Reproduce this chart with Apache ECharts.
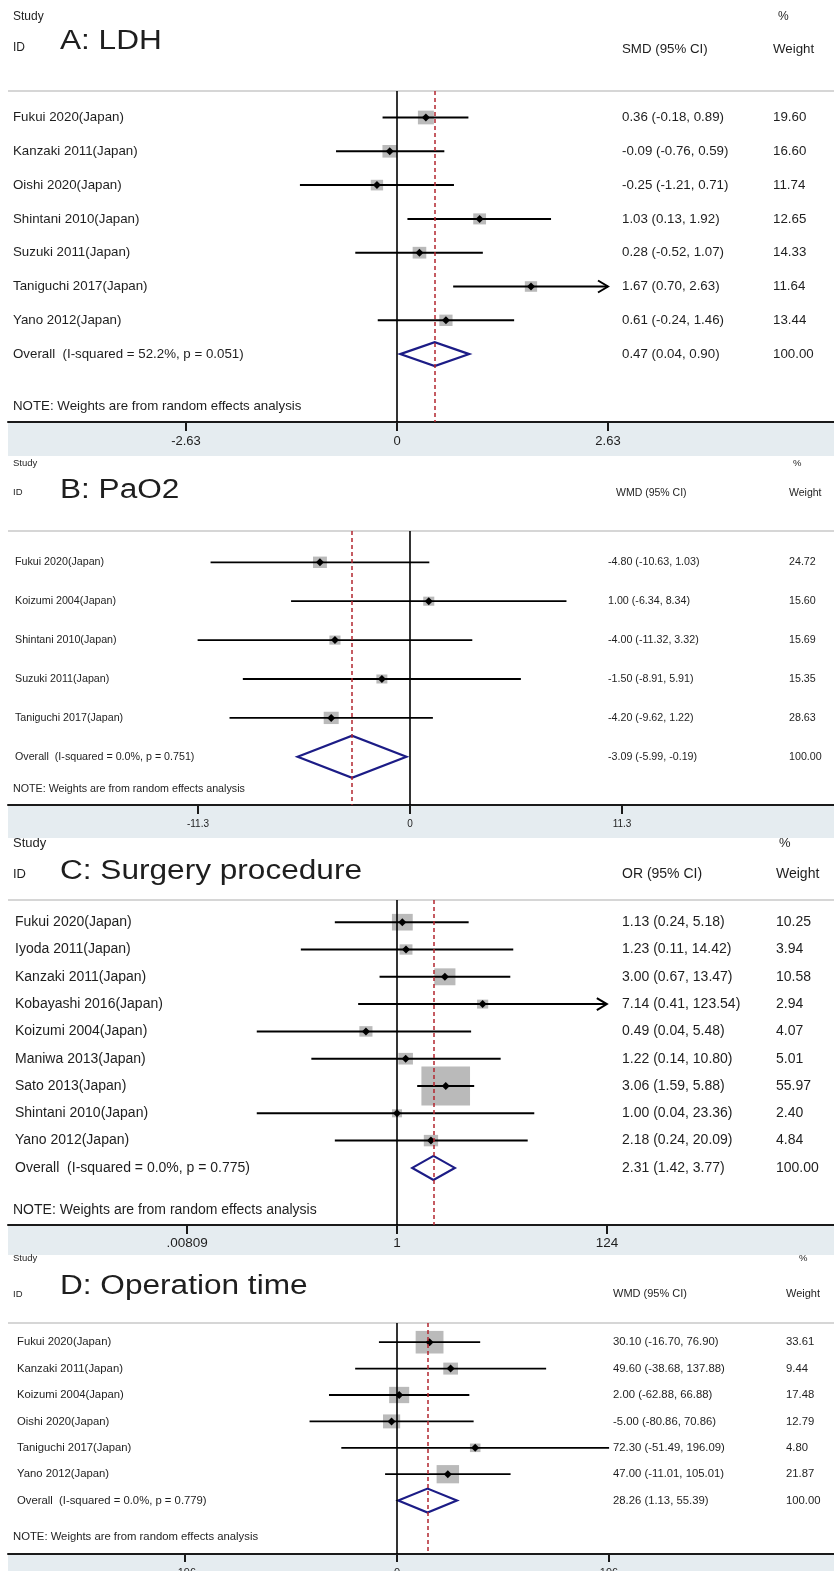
<!DOCTYPE html>
<html><head><meta charset="utf-8">
<script src="https://cdn.jsdelivr.net/npm/echarts@6/dist/echarts.min.js"></script>
<style>html,body{margin:0;padding:0;background:#fff}#c{width:834px;height:1571px}</style>
</head><body><div id="c"></div>
<script>
// ================= DATA =================
// Panel A: LDH (SMD)
const studiesA = ['Fukui 2020(Japan)','Kanzaki 2011(Japan)','Oishi 2020(Japan)','Shintani 2010(Japan)','Suzuki 2011(Japan)','Taniguchi 2017(Japan)','Yano 2012(Japan)'];
const estA    = [0.36, -0.09, -0.25, 1.03, 0.28, 1.67, 0.61];
const lowA    = [-0.18, -0.76, -1.21, 0.13, -0.52, 0.70, -0.24];
const highA   = [0.89, 0.59, 0.71, 1.92, 1.07, 2.63, 1.46];
const weightA = [19.60, 16.60, 11.74, 12.65, 14.33, 11.64, 13.44];
const arrowA  = [false, false, false, false, false, true, false];
const overallA = [0.47, 0.04, 0.90, 100.00];
const overallLabelA = 'Overall  (I-squared = 52.2%, p = 0.051)';
const ticksA = [-2.63, 0, 2.63];
const tickLabelsA = ['-2.63', '0', '2.63'];

// Panel B: PaO2 (WMD)
const studiesB = ['Fukui 2020(Japan)','Koizumi 2004(Japan)','Shintani 2010(Japan)','Suzuki 2011(Japan)','Taniguchi 2017(Japan)'];
const estB    = [-4.80, 1.00, -4.00, -1.50, -4.20];
const lowB    = [-10.63, -6.34, -11.32, -8.91, -9.62];
const highB   = [1.03, 8.34, 3.32, 5.91, 1.22];
const weightB = [24.72, 15.60, 15.69, 15.35, 28.63];
const arrowB  = [false, false, false, false, false];
const overallB = [-3.09, -5.99, -0.19, 100.00];
const overallLabelB = 'Overall  (I-squared = 0.0%, p = 0.751)';
const ticksB = [-11.3, 0, 11.3];
const tickLabelsB = ['-11.3', '0', '11.3'];

// Panel C: Surgery procedure (OR, log scale)
const studiesC = ['Fukui 2020(Japan)','Iyoda 2011(Japan)','Kanzaki 2011(Japan)','Kobayashi 2016(Japan)','Koizumi 2004(Japan)','Maniwa 2013(Japan)','Sato 2013(Japan)','Shintani 2010(Japan)','Yano 2012(Japan)'];
const estC    = [1.13, 1.23, 3.00, 7.14, 0.49, 1.22, 3.06, 1.00, 2.18];
const lowC    = [0.24, 0.11, 0.67, 0.41, 0.04, 0.14, 1.59, 0.04, 0.24];
const highC   = [5.18, 14.42, 13.47, 123.54, 5.48, 10.80, 5.88, 23.36, 20.09];
const weightC = [10.25, 3.94, 10.58, 2.94, 4.07, 5.01, 55.97, 2.40, 4.84];
const arrowC  = [false, false, false, true, false, false, false, false, false];
const overallC = [2.31, 1.42, 3.77, 100.00];
const overallLabelC = 'Overall  (I-squared = 0.0%, p = 0.775)';
const ticksC = [0.00809, 1, 124];
const tickLabelsC = ['.00809', '1', '124'];

// Panel D: Operation time (WMD)
const studiesD = ['Fukui 2020(Japan)','Kanzaki 2011(Japan)','Koizumi 2004(Japan)','Oishi 2020(Japan)','Taniguchi 2017(Japan)','Yano 2012(Japan)'];
const estD    = [30.10, 49.60, 2.00, -5.00, 72.30, 47.00];
const lowD    = [-16.70, -38.68, -62.88, -80.86, -51.49, -11.01];
const highD   = [76.90, 137.88, 66.88, 70.86, 196.09, 105.01];
const weightD = [33.61, 9.44, 17.48, 12.79, 4.80, 21.87];
const arrowD  = [false, false, false, false, false, false];
const overallD = [28.26, 1.13, 55.39, 100.00];
const overallLabelD = 'Overall  (I-squared = 0.0%, p = 0.779)';
const ticksD = [-196, 0, 196];
const tickLabelsD = ['-196', '0', '196'];

const noteText = 'NOTE: Weights are from random effects analysis';

// ================= LAYOUT =================
const FONT = '"Liberation Sans", Arial, Helvetica, sans-serif';
const RIGHT = 834;
const panels = [
  {studies:studiesA, est:estA, low:lowA, high:highA, w:weightA, arrow:arrowA, overall:overallA, overallLabel:overallLabelA,
   ticks:ticksA, tickLabels:tickLabelsA, title:'A: LDH', measure:'SMD (95% CI)', log:false,
   x0:397, ppu:211/2.63, bandLeft:8, ruleY:91, axisY:422, bandH:34, rowY0:117.5, rowDy:33.8, noteY:406,
   labelX:13, estX:622, wX:773, pctX:778, measureX:622, studyY:17, idY:48, titleY:42, headY:49,
   fLabel:13.3, fHead:13.3, fStudy:12, fTick:13, fTitle:27, tickLen:9, tickMargin:13,
   boxKW:3.6, boxKH:3.1, ciW:2, dH:24},
  {studies:studiesB, est:estB, low:lowB, high:highB, w:weightB, arrow:arrowB, overall:overallB, overallLabel:overallLabelB,
   ticks:ticksB, tickLabels:tickLabelsB, title:'B: PaO2', measure:'WMD (95% CI)', log:false,
   x0:410, ppu:212/11.3, bandLeft:8, ruleY:531, axisY:805, bandH:33, rowY0:562.3, rowDy:38.9, noteY:789,
   labelX:15, estX:608, wX:789, pctX:793, measureX:616, studyY:463, idY:492, titleY:491, headY:493,
   fLabel:10.7, fHead:10.5, fStudy:9.5, fTick:10, fTitle:27, tickLen:9, tickMargin:14,
   boxKW:2.8, boxKH:2.3, ciW:1.8, dH:42},
  {studies:studiesC, est:estC, low:lowC, high:highC, w:weightC, arrow:arrowC, overall:overallC, overallLabel:overallLabelC,
   ticks:ticksC, tickLabels:tickLabelsC, title:'C: Surgery procedure', measure:'OR (95% CI)', log:true,
   x0:397, ppu:210/Math.log(124), bandLeft:8, ruleY:900, axisY:1225, bandH:30, rowY0:922.2, rowDy:27.3, noteY:1210,
   labelX:15, estX:622, wX:776, pctX:779, measureX:622, studyY:843, idY:874, titleY:872, headY:874,
   fLabel:14, fHead:14, fStudy:13, fTick:13.5, fTitle:27, tickLen:9, tickMargin:11,
   boxKW:6.5, boxKH:5.2, ciW:2, dH:24},
  {studies:studiesD, est:estD, low:lowD, high:highD, w:weightD, arrow:arrowD, overall:overallD, overallLabel:overallLabelD,
   ticks:ticksD, tickLabels:tickLabelsD, title:'D: Operation time', measure:'WMD (95% CI)', log:false,
   x0:397, ppu:212/196, bandLeft:8, ruleY:1323, axisY:1554, bandH:20, rowY0:1342.2, rowDy:26.4, noteY:1537,
   labelX:17, estX:613, wX:786, pctX:799, measureX:613, studyY:1258, idY:1294, titleY:1287, headY:1294,
   fLabel:11.3, fHead:11, fStudy:9.5, fTick:11, fTitle:27, tickLen:8, tickMargin:13,
   boxKW:4.8, boxKH:3.9, ciW:1.8, dH:24}
];

const TXT = '#1e1e1e';
const f2 = v => v.toFixed(2);
const grids = [], xAxes = [], yAxes = [], series = [], graphics = [];

function txt(x, y, text, size, extra) {
  return Object.assign({type:'text', x:x, y:y, silent:true,
    style:{text:text, fill:TXT, fontFamily:FONT, fontSize:size, align:'left', verticalAlign:'middle'}}, extra || {});
}

panels.forEach((p, idx) => {
  const tf = p.log ? Math.log : (v => v);
  const xmin = (p.bandLeft - p.x0) / p.ppu, xmax = (RIGHT - p.x0) / p.ppu;
  const tickVals = p.ticks.map(tf);
  grids.push({left:p.bandLeft, right:0, top:p.ruleY, height:p.axisY - p.ruleY, containLabel:false, outerBoundsMode:'none'});
  xAxes.push({gridIndex:idx, type:'value', min:xmin, max:xmax, splitLine:{show:false},
    axisLine:{onZero:false, lineStyle:{color:'#1a1a1a', width:2}},
    axisTick:{customValues:tickVals, length:p.tickLen, lineStyle:{color:'#1a1a1a', width:2}},
    axisLabel:{customValues:tickVals, margin:p.tickMargin, fontFamily:FONT, fontSize:p.fTick, color:TXT,
      formatter: v => { let k = 0, b = Infinity; tickVals.forEach((t, j) => { if (Math.abs(t - v) < b) { b = Math.abs(t - v); k = j; } }); return p.tickLabels[k]; }}});
  yAxes.push({gridIndex:idx, type:'value', inverse:true, show:false,
    min:(p.ruleY - p.rowY0) / p.rowDy, max:(p.axisY - p.rowY0) / p.rowDy});

  const n = p.studies.length;
  const data = p.studies.map((s, i) => [i, tf(p.est[i]), tf(p.low[i]), tf(p.high[i]), p.w[i], 0]);
  data.push([n, tf(p.overall[0]), tf(p.overall[1]), tf(p.overall[2]), p.overall[3], 1]);

  series.push({type:'custom', xAxisIndex:idx, yAxisIndex:idx, data:data, silent:true, z:2,
    renderItem:(params, api) => {
      const i = params.dataIndex;
      const row = api.value(0), e = api.value(1), lo = api.value(2), hi = api.value(3), w = api.value(4);
      const isOv = api.value(5) === 1;
      const c = api.coord([e, row]); const cx = c[0], cy = c[1];
      const xl = api.coord([lo, row])[0], xh = api.coord([hi, row])[0];
      const ch = [];
      const label = isOv ? p.overallLabel : p.studies[i];
      const rawE = isOv ? p.overall[0] : p.est[i], rawL = isOv ? p.overall[1] : p.low[i], rawH = isOv ? p.overall[2] : p.high[i];
      ch.push(txt(p.labelX, cy, label, p.fLabel));
      ch.push(txt(p.estX, cy, f2(rawE) + ' (' + f2(rawL) + ', ' + f2(rawH) + ')', p.fLabel));
      ch.push(txt(p.wX, cy, f2(w), p.fLabel));
      if (isOv) {
        const h = p.dH / 2;
        ch.push({type:'polygon', shape:{points:[[xl, cy], [cx, cy - h], [xh, cy], [cx, cy + h]]},
          style:{fill:'none', stroke:'#1c1c86', lineWidth:2.2}});
      } else {
        const bw = p.boxKW * Math.sqrt(w), bh = p.boxKH * Math.sqrt(w);
        ch.push({type:'rect', shape:{x:cx - bw / 2, y:cy - bh / 2, width:bw, height:bh}, style:{fill:'#bababa'}});
        ch.push({type:'line', shape:{x1:xl, y1:cy, x2:xh, y2:cy}, style:{stroke:'#000', lineWidth:p.ciW}});
        if (p.arrow[i]) {
          ch.push({type:'polyline', shape:{points:[[xh - 10, cy - 6], [xh, cy], [xh - 10, cy + 6]]},
            style:{fill:'none', stroke:'#000', lineWidth:p.ciW}});
        }
        const r = 4;
        ch.push({type:'polygon', shape:{points:[[cx - r, cy], [cx, cy - r], [cx + r, cy], [cx, cy + r]]}, style:{fill:'#000'}});
      }
      return {type:'group', children:ch};
    },
    markLine:{silent:true, symbol:'none', label:{show:false}, animation:false,
      data:[
        {xAxis:0, lineStyle:{color:'#000', type:'solid', width:1.6}},
        {xAxis:tf(p.overall[0]), lineStyle:{color:'#b3262f', type:[4, 3], width:1.5}}
      ]}
  });

  // background band under the axis, header rule
  graphics.push({type:'rect', z:-1, silent:true, shape:{x:p.bandLeft, y:p.axisY, width:RIGHT - p.bandLeft, height:p.bandH}, style:{fill:'#e5ecf0'}});
  graphics.push({type:'line', silent:true, shape:{x1:p.bandLeft, y1:p.ruleY, x2:RIGHT, y2:p.ruleY}, style:{stroke:'#c8c8c8', lineWidth:1.5}});
  // headers
  graphics.push(txt(13, p.studyY, 'Study', p.fStudy));
  graphics.push(txt(13, p.idY, 'ID', p.fStudy));
  graphics.push(txt(60, p.titleY, p.title, p.fTitle, {scaleX:1.17}));
  graphics.push(txt(p.measureX, p.headY, p.measure, p.fHead));
  graphics.push(txt(p.pctX, p.studyY, '%', p.fStudy));
  graphics.push(txt(p.wX, p.headY, 'Weight', p.fHead));
  graphics.push(txt(13, p.noteY, noteText, p.fLabel));
});

const chart = echarts.init(document.getElementById('c'), null, {renderer:'canvas', width:834, height:1571});
chart.setOption({
  animation:false,
  backgroundColor:'#ffffff',
  grid:grids, xAxis:xAxes, yAxis:yAxes, series:series, graphic:graphics
});
</script></body></html>
